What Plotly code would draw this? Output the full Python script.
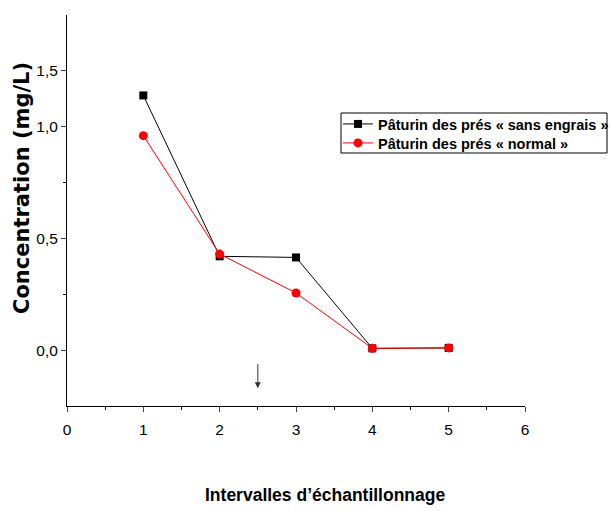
import plotly.graph_objects as go

x_vals = [1, 2, 3, 4, 5]
sans_engrais = [1.14, 0.42, 0.415, 0.008, 0.01]
normal = [0.96, 0.43, 0.256, 0.008, 0.01]
name_sans = "Pâturin des prés « sans engrais »"
name_normal = "Pâturin des prés « normal »"
x_ticks = [0, 1, 2, 3, 4, 5, 6]
y_tickvals = [0, 0.5, 1.0, 1.25]
y_ticktext = ["0,0", "0,5", "1,0", "1,5"]
x_title = "Intervalles d’échantillonnage"
y_title = "Concentration (mg/L)"

FONT = "Arial, Liberation Sans"
W, H = 660, 511          # figure wider than the window so the legend is clipped like the original
L, R, T, B = 67, 525, 15, 406   # plot-area pixel box
PW, PH = R - L, B - T


def px(xp):
    return (xp - L) / PW


def py(yp):
    return (B - yp) / PH


fig = go.Figure()
fig.add_trace(go.Scatter(x=x_vals, y=sans_engrais, mode="lines+markers", name=name_sans,
                         line=dict(color="black", width=1), legend="legend",
                         marker=dict(symbol="square", size=8, color="black")))
fig.add_trace(go.Scatter(x=x_vals, y=normal, mode="lines+markers", name=name_normal,
                         line=dict(color="red", width=1), legend="legend2",
                         marker=dict(symbol="circle", size=9, color="red")))

fig.add_annotation(x=2.5, y=-0.17, ax=2.5, ay=-0.055, xref="x", yref="y", axref="x", ayref="y",
                   showarrow=True, arrowhead=2, arrowsize=1.2, arrowwidth=1, arrowcolor="#333", text="")

fig.add_annotation(text=x_title, xref="paper", yref="paper", x=px(325), y=py(495),
                   showarrow=False, xanchor="center", yanchor="middle",
                   font=dict(size=17.5, weight="bold", family=FONT, color="black"))
fig.add_annotation(text=y_title, xref="paper", yref="paper", x=px(22), y=py(188),
                   showarrow=False, xanchor="center", yanchor="middle", textangle=-90,
                   font=dict(size=21, weight="bold", family="DejaVu Sans", color="black"))

# legend frame
fig.add_shape(type="rect", xref="paper", yref="paper", x0=px(341), x1=px(607), y0=py(153), y1=py(113),
              line=dict(color="black", width=1), fillcolor="rgba(0,0,0,0)", layer="above")

leg_common = dict(xanchor="left", yanchor="middle", borderwidth=0, bgcolor="rgba(0,0,0,0)",
                  font=dict(family=FONT, size=14.5, color="black", weight="bold"), itemwidth=30)

fig.update_layout(
    width=W, height=H,
    margin=dict(l=L, r=W - R, t=T, b=H - B),
    plot_bgcolor="white", paper_bgcolor="white",
    font=dict(family=FONT, size=15.5, color="black"),
    showlegend=True,
    legend=dict(x=px(338), y=py(124), **leg_common),
    legend2=dict(x=px(338), y=py(143), **leg_common),
)
fig.update_xaxes(range=[0, 6], tickvals=x_ticks, ticks="outside", ticklen=5, tickwidth=1,
                 showline=True, linecolor="black", linewidth=1, showgrid=False, zeroline=False,
                 automargin=False, ticklabelstandoff=4,
                 minor=dict(tickvals=[0.5, 1.5, 2.5, 3.5, 4.5, 5.5], ticks="outside", ticklen=3, tickcolor="black"))
fig.update_yaxes(range=[-0.25, 1.5], tickvals=y_tickvals, ticktext=y_ticktext, ticks="outside",
                 ticklen=5, tickwidth=1, showline=True, linecolor="black", linewidth=1,
                 showgrid=False, zeroline=False, automargin=False,
                 minor=dict(tickvals=[0.25, 0.75], ticks="outside", ticklen=3, tickcolor="black"))

fig.write_html("out.html", config={"displayModeBar": False},
               post_script="document.body.style.margin='0';document.body.style.overflow='hidden';"
                           "document.documentElement.style.overflow='hidden';")
